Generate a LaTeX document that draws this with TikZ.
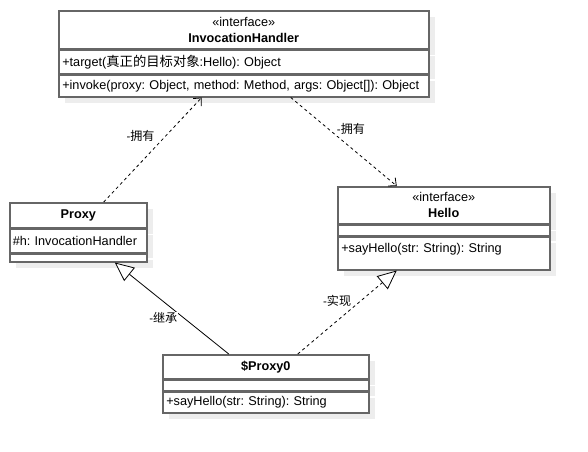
\documentclass[tikz,border=0pt]{standalone}
\usepackage{fontspec}
\setmainfont{Liberation Sans}
\newfontfamily\cjk[Scale=1.05]{Noto Sans CJK SC}
\usetikzlibrary{arrows.meta,positioning,shadows}
\frenchspacing

\begin{document}
\begin{tikzpicture}[x=1pt, y=-1pt,
	every node/.style={font=\fontsize{12.7}{16}\selectfont},
	umlbox/.style={draw=black!60, line width=1.5pt, fill=white, inner sep=0pt, anchor=north west,
		drop shadow={shadow xshift=6pt, shadow yshift=-6pt, fill=black!7, opacity=1}},
	umltitle/.style={umlbox, align=center},
	umlrow/.style={umlbox, align=left, inner xsep=3.5pt},
	edgelabel/.style={font=\fontsize{11.5}{13}\selectfont, fill=white, inner sep=1pt},
	dep/.style={line width=0.8pt, dash pattern=on 3pt off 3pt, -{Straight Barb[length=6pt, width=11pt]}},
	inherit/.style={line width=0.8pt, -{Triangle[open, length=19pt, width=17pt, fill=white]}},
	realize/.style={inherit, dash pattern=on 3pt off 3pt}]
	\useasboundingbox (0,0) rectangle (588,451);
	% InvocationHandler
	\node[umltitle, minimum width=370pt, minimum height=38pt] (ih) at (58,10) {«interface»\\\textbf{InvocationHandler}};
	\node[umlrow, text width=363pt, minimum height=23pt] (ihattr) at (ih.south west) {+target({\cjk 真正的目标对象}:Hello): Object};
	\node[umlrow, text width=363pt, minimum height=22pt] (ihop) at (ihattr.south west) {+invoke(proxy: Object, method: Method, args: Object[]): Object};
	% Proxy
	\node[umltitle, minimum width=137pt, minimum height=25pt] (proxy) at (9,202) {\textbf{Proxy}};
	\node[umlrow, inner xsep=3pt, text width=131pt, minimum height=23pt] (proxyattr) at (proxy.south west) {\#h: InvocationHandler};
	\node[umlbox, minimum width=137pt, minimum height=8pt] (proxyop) at (proxyattr.south west) {};
	% Hello
	\node[umltitle, minimum width=212pt, minimum height=37pt] (hello) at (337,186) {«interface»\\\textbf{Hello}};
	\node[umlbox, minimum width=212pt, minimum height=10pt] (helloattr) at (hello.south west) {};
	\node[umlrow, text width=205pt, inner ysep=2pt, text height=14pt, text depth=15pt] (helloop) at (helloattr.south west) {+sayHello(str: String): String};
	% $Proxy0
	\node[umltitle, minimum width=206pt, minimum height=24pt] (proxy0) at (162,354) {\textbf{\$Proxy0}};
	\node[umlbox, minimum width=206pt, minimum height=10pt] (proxy0attr) at (proxy0.south west) {};
	\node[umlrow, text width=199pt, minimum height=21pt] (proxy0op) at (proxy0attr.south west) {+sayHello(str: String): String};
	% relations
	\draw[dep] ([xshift=25.5pt]proxy.north) -- ([xshift=-42pt]ihop.south)
		node[edgelabel, pos=0.63, xshift=-25pt] {-{\cjk 拥有}};
	\draw[dep] ([xshift=47pt]ihop.south) -- ([xshift=-47pt]hello.north)
		node[edgelabel, pos=0.36, xshift=22pt] {-{\cjk 拥有}};
	\draw[inherit] ([xshift=-37pt]proxy0.north) -- ([xshift=36.5pt]proxyop.south)
		node[edgelabel, pos=0.39, xshift=-21pt] {-{\cjk 继承}};
	\draw[realize] ([xshift=32pt]proxy0.north) -- ([xshift=-47pt]helloop.south)
		node[edgelabel, pos=0.64, xshift=-24pt] {-{\cjk 实现}};
\end{tikzpicture}
\end{document}
